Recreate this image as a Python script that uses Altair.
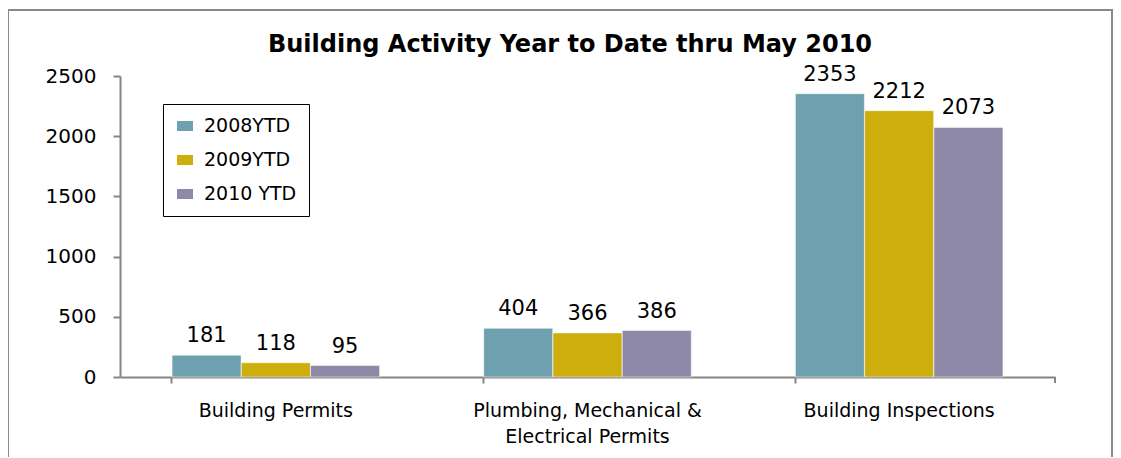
import altair as alt
import pandas as pd

categories = ["Building Permits", "Plumbing, Mechanical & Electrical Permits", "Building Inspections"]
series = ["2008YTD", "2009YTD", "2010 YTD"]
v2008 = [181, 404, 2353]
v2009 = [118, 366, 2212]
v2010 = [95, 386, 2073]
colors = ["#6FA0AF", "#CDAE0C", "#8D89A6"]
y_ticks = [0, 500, 1000, 1500, 2000, 2500]
title_text = ["Building Activity Year to Date thru May 2010"]

rows = []
for i, c in enumerate(categories):
    for s, vals in zip(series, [v2008, v2009, v2010]):
        rows.append({"category": c, "series": s, "value": vals[i]})
df = pd.DataFrame(rows)
title_df = pd.DataFrame({"t": title_text})

FONT = "DejaVu Sans"
W, H = 935, 301

x = alt.X("category:N", sort=categories, title=None,
          scale=alt.Scale(paddingInner=1/3, paddingOuter=1/6),
          axis=alt.Axis(labelAngle=0, bandPosition=0, tickSize=6, tickColor="#868686",
                        domainColor="#868686", domainWidth=2, tickWidth=2,
                        labelFontSize=19, labelFont=FONT, labelColor="#000000",
                        labelPadding=18, labelLimit=400, labelLineHeight=26, labelBaseline="top",
                        labelExpr="datum.label == 'Plumbing, Mechanical & Electrical Permits' ? ['Plumbing, Mechanical &', 'Electrical Permits'] : datum.label"))
xo = alt.XOffset("series:N", sort=series)
y = alt.Y("value:Q", title=None,
          scale=alt.Scale(domain=[0, 2500], nice=False),
          axis=alt.Axis(values=y_ticks, format="d", grid=False, tickSize=7, tickColor="#868686", tickWidth=2,
                        domainColor="#868686", domainWidth=2, labelFontSize=20, labelFont=FONT,
                        labelColor="#000000", labelPadding=17))

bars = alt.Chart(df).mark_bar(size=69, stroke="#ffffff", strokeWidth=0.5).encode(
    x=x, xOffset=xo, y=y,
    color=alt.Color("series:N", sort=series,
                    scale=alt.Scale(domain=series, range=colors),
                    legend=alt.Legend(title=None, orient="none", legendX=43, legendY=28,
                                      strokeColor="#000000", padding=12,
                                      symbolType="M-0.8,-0.5H0.8V0.5H-0.8Z", symbolSize=400,
                                      symbolStrokeWidth=0,
                                      labelFontSize=19, labelFont=FONT, labelColor="#000000",
                                      rowPadding=14, labelOffset=9)),
)

labels = alt.Chart(df).mark_text(baseline="alphabetic", dy=-13, fontSize=21, font=FONT, color="#000000").encode(
    x=alt.X("category:N", sort=categories), xOffset=xo, y="value:Q", text="value:Q"
)

border = alt.Chart(df).mark_rect(fill=None, stroke="#8a8a8a", strokeWidth=2).encode(
    x=alt.value(-112), x2=alt.value(992), y=alt.value(-66), y2=alt.value(500)
)
end_tick = alt.Chart(df).mark_rule(color="#868686", strokeWidth=2).encode(
    x=alt.value(W), y=alt.value(H), y2=alt.value(H + 6)
)
title = alt.Chart(title_df).mark_text(fontSize=24, font=FONT, fontWeight="bold", color="#000000",
                                      align="center", baseline="alphabetic").encode(
    x=alt.value(450), y=alt.value(-24), text="t:N"
)

chart = alt.layer(border, bars, labels, end_tick, title).properties(
    width=W, height=H,
    autosize=alt.AutoSizeParams(type="none"),
    padding={"left": 112, "top": 68, "right": 58, "bottom": 80},
).configure_view(stroke=None)

chart.save("out.html", embed_options={"renderer": "svg", "actions": False})
